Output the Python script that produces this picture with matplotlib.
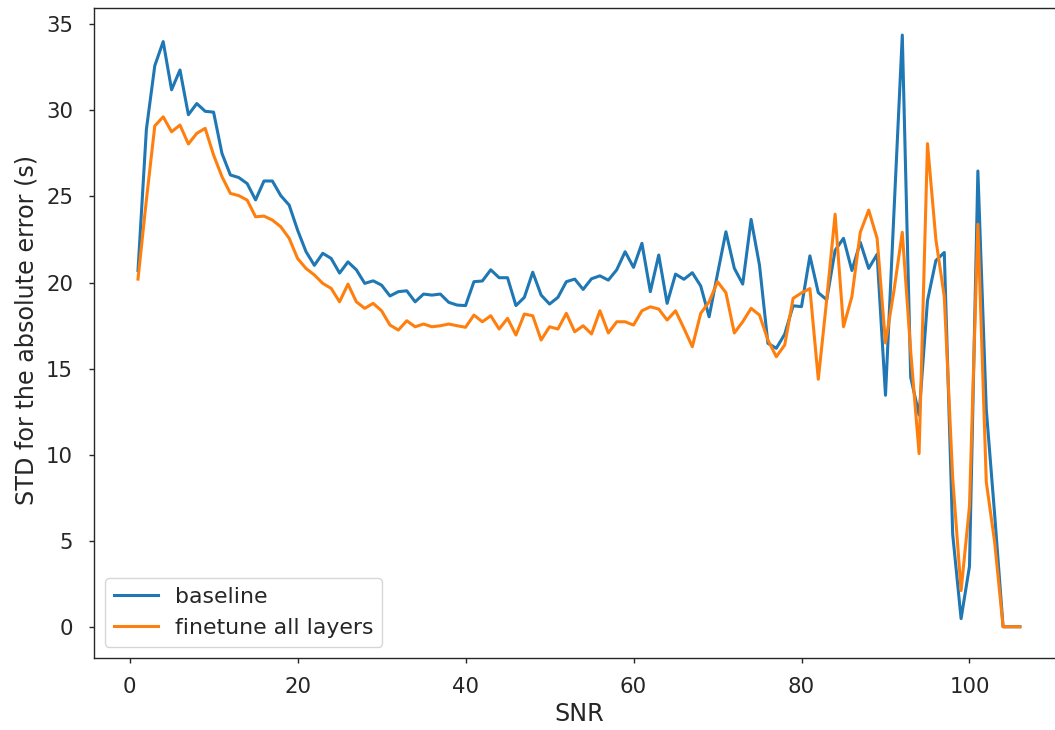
import matplotlib
matplotlib.use("Agg")
import matplotlib.pyplot as plt
import numpy as np

snr = np.arange(1, 107)

baseline = [
    20.7, 28.9, 32.6, 34.0, 31.2, 32.35, 29.75, 30.4, 29.95, 29.9,
    27.5, 26.25, 26.1, 25.75, 24.8, 25.9, 25.9, 25.05, 24.5, 23.05,
    21.8, 21.0, 21.7, 21.4, 20.55, 21.2, 20.74, 19.95, 20.1, 19.85,
    19.22, 19.47, 19.52, 18.88, 19.33, 19.27, 19.33, 18.85, 18.69, 18.66,
    20.05, 20.09, 20.74, 20.28, 20.28, 18.66, 19.14, 20.6, 19.27, 18.75,
    19.14, 20.05, 20.2, 19.6, 20.22, 20.39, 20.14, 20.74, 21.79, 20.88,
    22.28, 19.47, 21.6, 18.79, 20.49, 20.19, 20.57, 19.8, 18.01, 20.5,
    22.95, 20.83, 19.91, 23.67, 21.0, 16.47, 16.18, 17.0, 18.65, 18.6,
    21.55, 19.41, 19.0, 21.87, 22.57, 20.7, 22.34, 20.82, 21.64, 13.45,
    24.0, 34.38, 14.5, 12.3, 18.95, 21.28, 21.75, 5.38, 0.47, 3.51,
    26.48, 12.63, 6.5, 0.0, 0.0, 0.0,
]

finetune_all = [
    20.2, 24.8, 29.1, 29.63, 28.76, 29.15, 28.05, 28.67, 28.96, 27.41,
    26.15, 25.18, 25.05, 24.79, 23.82, 23.86, 23.63, 23.24, 22.57, 21.4,
    20.82, 20.44, 19.95, 19.66, 18.88, 19.91, 18.88, 18.5, 18.79, 18.36,
    17.53, 17.24, 17.78, 17.43, 17.59, 17.43, 17.49, 17.59, 17.49, 17.4,
    18.11, 17.72, 18.07, 17.3, 17.92, 16.95, 18.17, 18.07, 16.66, 17.43,
    17.3, 18.21, 17.14, 17.49, 17.01, 18.36, 17.07, 17.72, 17.72, 17.53,
    18.36, 18.59, 18.46, 17.82, 18.36, 17.34, 16.27, 18.21, 18.88, 20.05,
    19.41, 17.07, 17.72, 18.5, 18.11, 16.66, 15.69, 16.37, 19.08, 19.4,
    19.65, 14.38, 19.0, 23.97, 17.43, 19.18, 22.92, 24.21, 22.57, 16.49,
    19.5, 22.92, 16.0, 10.06, 28.07, 22.5, 19.18, 8.65, 2.1, 7.0,
    23.39, 8.42, 4.9, 0.0, 0.0, 0.0,
]

series_labels = ["baseline", "finetune all layers"]

ink = "#262626"
plt.rcParams.update({
    "font.family": "DejaVu Sans",
    "text.color": ink,
    "axes.edgecolor": ink,
    "axes.labelcolor": ink,
    "xtick.color": ink,
    "ytick.color": ink,
    "axes.linewidth": 1.0,
    "xtick.major.width": 1.0,
    "ytick.major.width": 1.0,
    "xtick.major.size": 3.5,
    "ytick.major.size": 3.5,
})

fig = plt.figure(figsize=(10.55, 7.30), dpi=100)
ax = fig.add_axes([0.089, 0.099, 0.9195, 0.89])

ax.plot(snr, baseline, color="#1f77b4", lw=2.2, label=series_labels[0])
ax.plot(snr, finetune_all, color="#ff7f0e", lw=2.2, label=series_labels[1])

ax.set_xlim(-4.25, 111.25)
ax.set_ylim(-1.8, 35.95)
ax.set_xticks([0, 20, 40, 60, 80, 100])
ax.set_yticks([0, 5, 10, 15, 20, 25, 30, 35])
ax.tick_params(axis="x", labelsize=15.3, pad=10.4)
ax.tick_params(axis="y", labelsize=15.3, pad=11.5)

ax.set_xlabel("SNR", fontsize=17.2, va="top")
ax.xaxis.set_label_coords(0.5, -0.068)
ax.set_ylabel("STD for the absolute error (s)", fontsize=17.2)
ax.yaxis.set_label_coords(-0.0569, 0.505)

ax.legend(loc="lower left", fontsize=15.8)

fig.savefig("out.png", dpi=100)
